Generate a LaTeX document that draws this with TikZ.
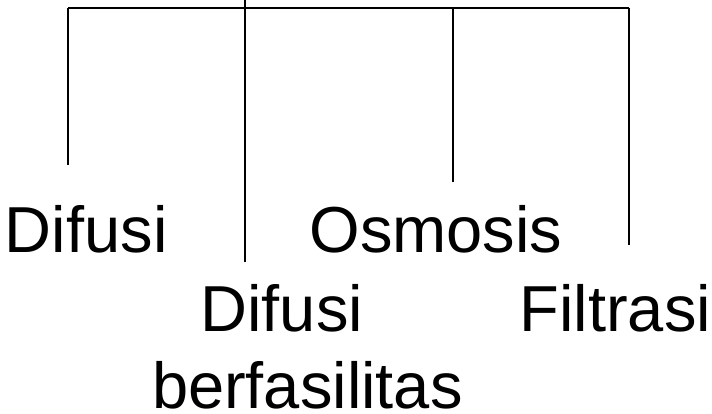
\documentclass[tikz,border=0pt]{standalone}
\usepackage{fontspec}
\setmainfont{Liberation Sans}
\begin{document}
\begin{tikzpicture}[x=1pt,y=1pt,
  lbl/.style={anchor=base west,inner sep=0pt,outer sep=0pt,text depth=0pt,font=\fontsize{65}{78}\selectfont},
  bus/.style={line width=2pt,black}]
\useasboundingbox (0,0) rectangle (712,414);
% bus coordinates (y measured upward: y = 414 - image y)
\coordinate (top) at (245,414);
\coordinate (jA) at (68,406.3);
\coordinate (jB) at (245,406.3);
\coordinate (jC) at (453,406.3);
\coordinate (jD) at (629,406.3);
\coordinate (eA) at (68,248.5);
\coordinate (eB) at (245,152);
\coordinate (eC) at (453,232);
\coordinate (eD) at (629,169);
\draw[bus] (top) -- (jB);
\draw[bus] (jA) -- (jD);
\draw[bus] (jA) -- (eA);
\draw[bus] (jB) -- (eB);
\draw[bus] (jC) -- (eC);
\draw[bus] (jD) -- (eD);
% labels
\node[lbl] (difusi) at (5,161) {Difusi};
\node[lbl] (osmosis) at (309.5,161) {Osmosis};
\node[lbl] (difusib) at (200.5,82.3) {Difusi};
\node[lbl] (berf) at (152,5) {berfasilitas};
\node[lbl] (filtrasi) at (519.7,82.3) {Filtrasi};
\end{tikzpicture}
\end{document}
